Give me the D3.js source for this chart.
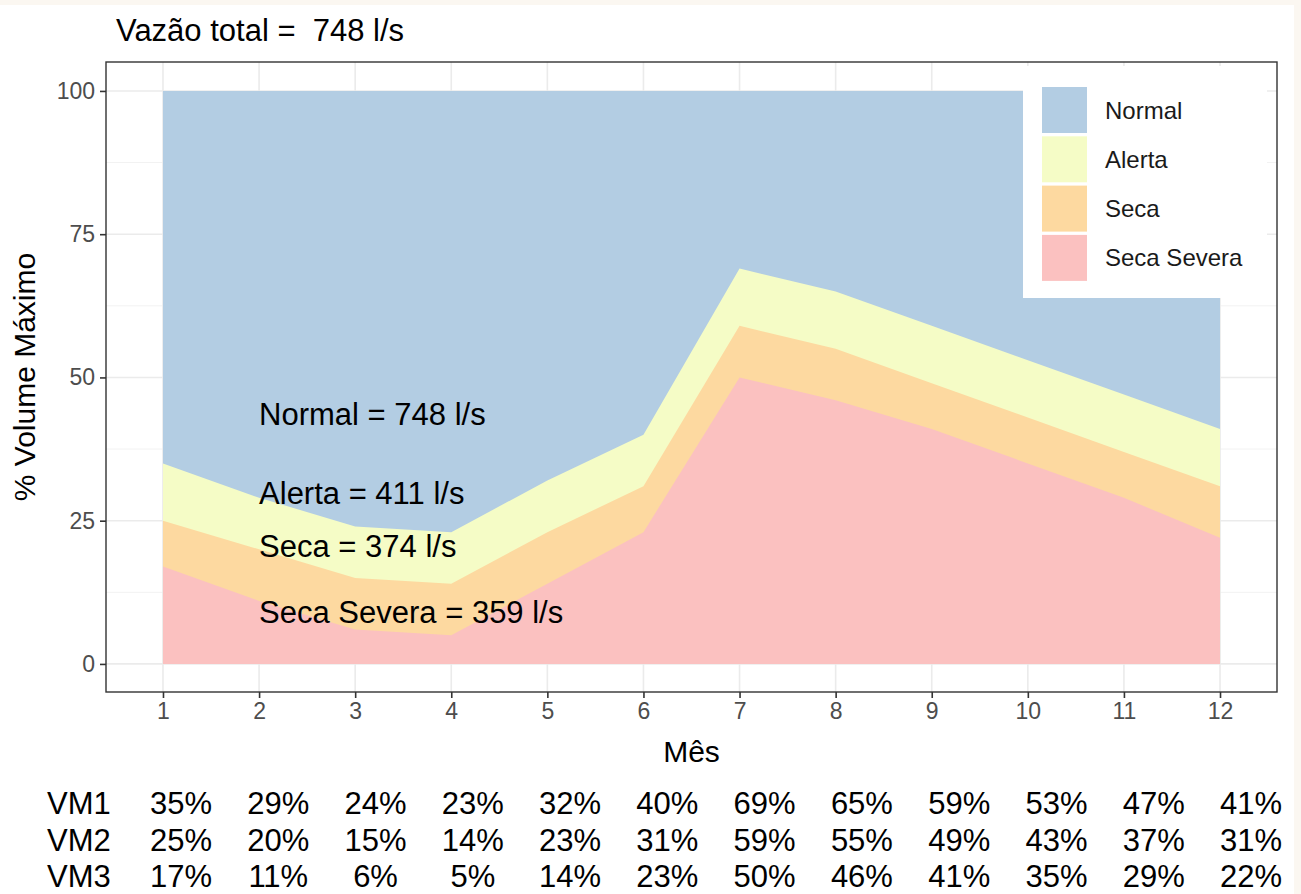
<!DOCTYPE html>
<html>
<head>
<meta charset="utf-8">
<script src="https://cdn.jsdelivr.net/npm/d3@7"></script>
<style>
  body { margin: 0; background: #fbf7f1; }
  #chart { position: absolute; left: 0; top: 5px; width: 1294px; height: 889px; background: #fff; }
  svg { position: absolute; left: 0; top: -5px; font-family: "Liberation Sans", Arial, sans-serif; }
</style>
</head>
<body>
<div id="chart"></div>
<script>
// data
const months = [1, 2, 3, 4, 5, 6, 7, 8, 9, 10, 11, 12];
const vm1 = [35, 29, 24, 23, 32, 40, 69, 65, 59, 53, 47, 41];
const vm2 = [25, 20, 15, 14, 23, 31, 59, 55, 49, 43, 37, 31];
const vm3 = [17, 11, 6, 5, 14, 23, 50, 46, 41, 35, 29, 22];
const full = months.map(() => 100);
const categories = ['Normal', 'Alerta', 'Seca', 'Seca Severa'];
const colors = ['#b3cde3', '#f5fcc6', '#fdd9a0', '#fbc1c0'];
const flows = [748, 411, 374, 359];
const labelY = [43.5, 29.8, 20.5, 9];
const yTicks = [0, 25, 50, 75, 100];
const yMinor = [12.5, 37.5, 62.5, 87.5];

const W = 1301, H = 894;
const margin = {top: 62, right: 24, bottom: 202, left: 106};
const pw = W - margin.left - margin.right;
const ph = H - margin.top - margin.bottom;

const svg = d3.select('#chart').append('svg')
    .attr('width', W)
    .attr('height', H);

const x = d3.scaleLinear().domain([0.407, 12.593]).range([0, pw]);
const y = d3.scaleLinear().domain([-4.9, 105.05]).range([ph, 0]);

const g = svg.append('g')
    .attr('transform', 'translate(' + margin.left + ',' + margin.top + ')');

// grid
g.selectAll('.minor').data(yMinor).enter().append('line')
    .attr('x1', 0).attr('x2', pw)
    .attr('y1', d => y(d)).attr('y2', d => y(d))
    .attr('stroke', '#f2f2f2').attr('stroke-width', 1);
g.selectAll('.hgrid').data(yTicks).enter().append('line')
    .attr('x1', 0).attr('x2', pw)
    .attr('y1', d => y(d)).attr('y2', d => y(d))
    .attr('stroke', '#ebebeb').attr('stroke-width', 1.6);
g.selectAll('.vgrid').data(months).enter().append('line')
    .attr('y1', 0).attr('y2', ph)
    .attr('x1', d => x(d)).attr('x2', d => x(d))
    .attr('stroke', '#ebebeb').attr('stroke-width', 1.6);

// areas, from top band to bottom band
const tops = [full, vm1, vm2, vm3];
const area = d3.area()
    .x((d, i) => x(months[i]))
    .y0(y(0))
    .y1(d => y(d));
tops.forEach((serie, k) => {
    g.append('path')
        .datum(serie)
        .attr('d', area)
        .attr('fill', colors[k]);
});

// text labels inside the plot
g.selectAll('.ann').data(categories).enter().append('text')
    .attr('x', x(2))
    .attr('y', (d, i) => y(labelY[i]))
    .attr('dominant-baseline', 'central')
    .attr('font-size', 31)
    .attr('fill', '#000')
    .text((d, i) => d + ' = ' + flows[i] + ' l/s');

// legend
const legend = g.append('g')
    .attr('transform', 'translate(' + (1023 - margin.left) + ',' + (66 - margin.top) + ')');
legend.append('rect')
    .attr('width', 244).attr('height', 232)
    .attr('fill', '#fff');
categories.forEach((c, i) => {
    legend.append('rect')
        .attr('x', 19).attr('y', 21 + i * 49.3)
        .attr('width', 45).attr('height', 46)
        .attr('fill', colors[i]);
    legend.append('text')
        .attr('x', 82).attr('y', 44 + i * 49.3)
        .attr('dominant-baseline', 'central')
        .attr('font-size', 24)
        .attr('fill', '#1a1a1a')
        .text(c);
});

// panel border
g.append('rect')
    .attr('width', pw).attr('height', ph)
    .attr('fill', 'none').attr('stroke', '#333').attr('stroke-width', 1.4);

// axes
const xAxis = g.append('g')
    .attr('transform', 'translate(0,' + ph + ')')
    .call(d3.axisBottom(x).tickValues(months).tickSize(6).tickPadding(5).tickFormat(d3.format('d')));
const yAxis = g.append('g')
    .call(d3.axisLeft(y).tickValues(yTicks).tickSize(6).tickPadding(5));
[xAxis, yAxis].forEach(a => {
    a.select('.domain').remove();
    a.selectAll('.tick line').attr('stroke', '#333').attr('stroke-width', 1.6);
    a.selectAll('.tick text')
        .attr('fill', '#4d4d4d')
        .attr('font-size', 23)
        .attr('font-family', '"Liberation Sans", Arial, sans-serif');
});

// titles
svg.append('text')
    .attr('x', 116).attr('y', 41)
    .attr('font-size', 31)
    .style('white-space', 'pre')
    .text('Vazão total =  748 l/s');

svg.append('text')
    .attr('x', margin.left + pw / 2).attr('y', 762)
    .attr('text-anchor', 'middle')
    .attr('font-size', 30)
    .text('Mês');

svg.append('text')
    .attr('transform', 'translate(35,' + (margin.top + ph / 2) + ') rotate(-90)')
    .attr('text-anchor', 'middle')
    .attr('font-size', 30)
    .text('% Volume Máximo');

// table of percentages under the chart
const rows = [['VM1', vm1], ['VM2', vm2], ['VM3', vm3]];
const col = d3.scaleLinear().domain([1, 12]).range([181, 1251]);
rows.forEach((r, j) => {
    const by = 814 + j * 36.5;
    svg.append('text')
        .attr('x', 47).attr('y', by)
        .attr('font-size', 31)
        .text(r[0]);
    svg.selectAll('.row' + j).data(r[1]).enter().append('text')
        .attr('x', (d, i) => col(months[i]))
        .attr('y', by)
        .attr('text-anchor', 'middle')
        .attr('font-size', 31)
        .text(d => d + '%');
});
</script>
</body>
</html>
